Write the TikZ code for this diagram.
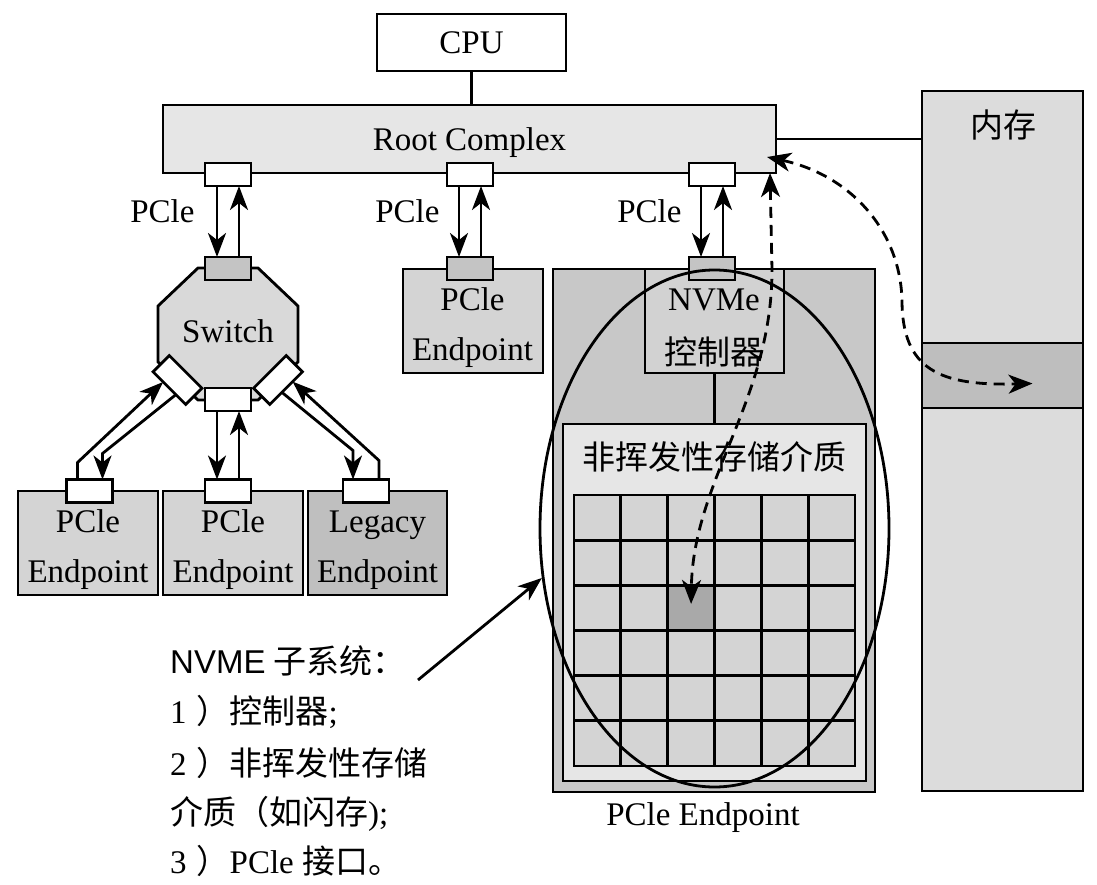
\documentclass[tikz,border=0pt]{standalone}
\usepackage{fontspec}
\setmainfont{Liberation Serif}
\newfontfamily\cjk{Noto Sans CJK SC}
\newfontfamily\lsans{Liberation Sans}
\usetikzlibrary{arrows.meta,shapes.geometric,calc}
\definecolor{rootc}{HTML}{E6E6E6}
\definecolor{memc}{HTML}{DCDCDC}
\definecolor{bandc}{HTML}{BEBEBE}
\definecolor{swc}{HTML}{D9D9D9}
\definecolor{epc}{HTML}{D4D4D4}
\definecolor{legc}{HTML}{BFBFBF}
\definecolor{portc}{HTML}{C4C4C4}
\definecolor{nvc}{HTML}{C8C8C8}
\definecolor{ctrlc}{HTML}{D2D2D2}
\definecolor{storc}{HTML}{E6E6E6}
\definecolor{cellc}{HTML}{D4D4D4}
\definecolor{hic}{HTML}{A9A9A9}
\begin{document}
\begin{tikzpicture}[x=1pt,y=-1pt,
  font=\fontsize{33}{50}\selectfont,
  lw/.style={line width=2.8pt},
  box/.style={draw, lw, inner sep=0pt, outer sep=0pt, align=center},
  port/.style={box, minimum width=46pt, minimum height=23pt},
  wport/.style={port, fill=white},
  gport/.style={port, fill=portc},
  arr/.style={lw, -{Stealth[length=24pt,width=18pt,inset=7pt]}},
  darr/.style={lw, dash pattern=on 11pt off 7pt, {Stealth[length=24pt,width=19pt,inset=7pt]}-{Stealth[length=24pt,width=19pt,inset=7pt]}},
  cell/.style={box, minimum width=46.833pt, minimum height=45.167pt},
]
\useasboundingbox (0,0) rectangle (1097,885);

% top
\node[box, fill=white, minimum width=189pt, minimum height=57pt, text depth=0pt] (cpu) at (471.5,42.5) {CPU};
\node[box, fill=rootc, minimum width=613pt, minimum height=68pt, text depth=0pt] (root) at (469.5,139) {Root Complex};
\draw[lw] (cpu.south) -- (cpu.south |- root.north);
\node[box, fill=memc, minimum width=161pt, minimum height=700pt] (mem) at (1002.5,441) {};
\node[box, fill=bandc, minimum width=161pt, minimum height=65pt] (band) at (1002.5,375.5) {};
\node (memtxt) at (1003,125) {\cjk 内存};
\draw[lw] (root.east) -- (root.east -| mem.west);

% switch
\draw[lw, fill=swc] (198,268) -- (258,268) -- (298,306) -- (298,362) -- (258,400) -- (198,400) -- (158,362) -- (158,306) -- cycle;
\node[anchor=base] (swtxt) at (228,342) {Switch};

% endpoints
\node[box, fill=epc, minimum width=140pt, minimum height=104pt] (e1) at (88,543) {};
\node[box, fill=epc, minimum width=140pt, minimum height=104pt] (e2) at (233,543) {};
\node[box, fill=legc, minimum width=139pt, minimum height=104pt] (e3) at (377.5,543) {};
\node[anchor=base] at (88,532) {PCle};
\node[anchor=base] at (88,582) {Endpoint};
\node[anchor=base] at (233,532) {PCle};
\node[anchor=base] at (233,582) {Endpoint};
\node[anchor=base] at (377.5,532) {Legacy};
\node[anchor=base] at (377.5,582) {Endpoint};

\node[box, fill=epc, minimum width=140pt, minimum height=104pt] (ep2) at (473,321) {};
\node[anchor=base] at (472.5,310) {PCle};
\node[anchor=base] at (472.5,360) {Endpoint};

% NVMe endpoint
\node[box, fill=nvc, minimum width=322pt, minimum height=523pt] (nvbox) at (714,530.5) {};
\node[box, fill=ctrlc, minimum width=139pt, minimum height=104pt] (ctrl) at (714.5,321) {};
\node[anchor=base] at (714,310) {NVMe};
\node at (714,352) {\cjk 控制器};
\node[box, fill=storc, minimum width=303pt, minimum height=357pt] (stor) at (714.5,602.5) {};
\draw[lw] (ctrl.south) -- (stor.north);
\node at (714.5,457) {\cjk 非挥发性存储介质};
\foreach \i in {0,...,5}{\foreach \j in {0,...,5}{
  \ifnum\i\j=22 \def\cf{hic}\else\def\cf{cellc}\fi
  \node[cell, fill=\cf] (c\i\j) at ({574+46.833*(\i+0.5)},{495+45.167*(\j+0.5)}) {};
}}
\node[anchor=base] (cap) at (703,825) {PCle Endpoint};

% ports
\node[wport] (rp1) at (228,174.5) {};
\node[wport] (rp2) at (470,174.5) {};
\node[wport] (rp3) at (712,174.5) {};
\node[gport] (sp0) at (228,268.5) {};
\node[gport] (ep2p) at (470,268.5) {};
\node[gport] (np) at (712,268.5) {};
\node[wport] (sp2) at (228,399.5) {};
\node[wport, rotate=-45] (swL) at (177.5,380) {};
\node[wport, rotate=45] (swR) at (278,380) {};
\node[wport] (e1p) at (89.5,491) {};
\node[wport] (e2p) at (228,491) {};
\node[wport] (e3p) at (366,491) {};

% PCIe links
\foreach \a/\b in {rp1/sp0, rp2/ep2p, rp3/np, sp2/e2p}{
  \draw[arr] ([xshift=-11pt]\a.south) -- ([xshift=-11pt]\b.north);
  \draw[arr] ([xshift=11pt]\b.north) -- ([xshift=11pt]\a.south);
}
\draw[arr] ([xshift=-12pt]e1p.north) -- ++(0,-17) -- ($(swL.south west)!0.31!(swL.south east)$);
\draw[arr] ($(swL.south west)!0.7!(swL.south east)$) -- ([xshift=13pt,yshift=26pt]e1p.north) -- ([xshift=13pt]e1p.north);
\draw[arr] ($(swR.south west)!0.37!(swR.south east)$) -- ([xshift=-13pt,yshift=29pt]e3p.north) -- ([xshift=-13pt]e3p.north);
\draw[arr] ([xshift=13pt]e3p.north) -- ++(0,-19) -- ($(swR.south west)!0.7!(swR.south east)$);

\node[anchor=base east] at (198,223) {PCle};
\node[anchor=base east] at (443,223) {PCle};
\node[anchor=base east] at (685,223) {PCle};

% subsystem ellipse
\node[draw, lw, ellipse, minimum width=349pt, minimum height=517pt, inner sep=0pt] (sub) at (714.5,528.5) {};

% dashed transfers
\draw[darr] ([xshift=-9pt,yshift=-18pt]root.east) .. controls (850,175) and (900,230) .. (902,300) .. controls (902,370) and (940,386) .. ([xshift=30pt,yshift=-8pt]band.center);
\draw[darr] ([xshift=-6pt]root.south east) -- (772,270) .. controls (772,400) and (693,480) .. ([yshift=4pt]c22.center);

% legend text
\node[anchor=base west, inner sep=0pt] (l1) at (170,673) {{\lsans NVME} {\cjk 子系统：}};
\node[anchor=base west, inner sep=0pt] (l2) at (170,723) {1\kern10pt{\cjk ）控制器};};
\node[anchor=base west, inner sep=0pt] (l3) at (170,775) {2\kern10pt{\cjk ）非挥发性存储}};
\node[anchor=base west, inner sep=0pt] (l4) at (170,824) {{\cjk 介质（如闪存});};
\node[anchor=base west, inner sep=0pt] (l5) at (170,873) {3\kern10pt{\cjk ）}PCle {\cjk 接口。}};
\coordinate (lblpt) at (418,680);
\draw[arr] (lblpt) -- (sub.196);
\end{tikzpicture}
\end{document}
